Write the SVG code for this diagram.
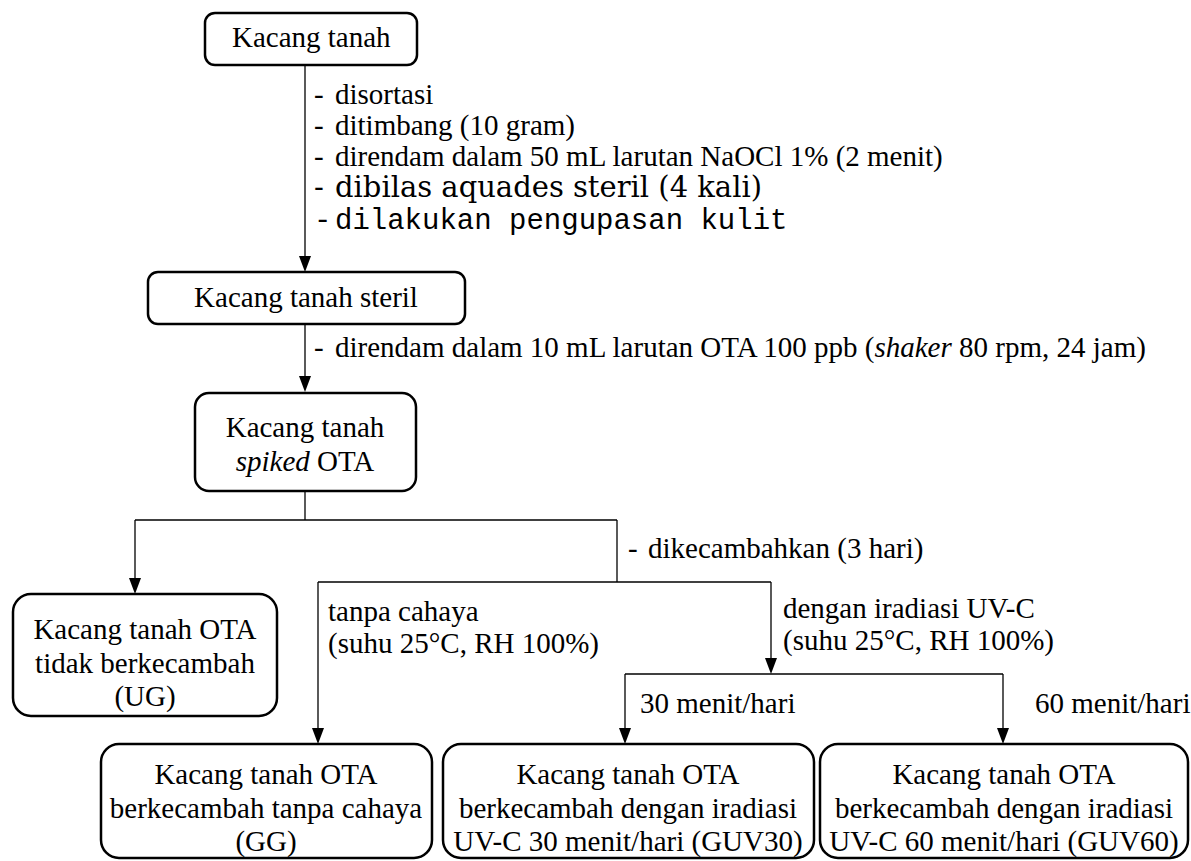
<svg xmlns="http://www.w3.org/2000/svg" width="1191" height="861" viewBox="0 0 1191 861">
<rect width="1191" height="861" fill="#fff"/>
<g id="connectors">
<g fill="none" stroke="#000" stroke-width="1.3">
<line x1="305" y1="65" x2="305" y2="260"/>
<line x1="305" y1="324" x2="305" y2="380"/>
<polyline points="305,491 305,520"/>
<polyline points="135,520 617,520"/>
<line x1="135" y1="520" x2="135" y2="582"/>
<polyline points="617,520 617,582"/>
<polyline points="318,582 771,582"/>
<line x1="318" y1="582" x2="318" y2="732"/>
<line x1="771" y1="582" x2="771" y2="662"/>
<polyline points="625,674 1003,674"/>
<line x1="625" y1="674" x2="625" y2="732"/>
<line x1="1003" y1="674" x2="1003" y2="732"/>
</g>
<g fill="#000">
<polygon points="299,256 311,256 305,272"/>
<polygon points="299,376 311,376 305,392"/>
<polygon points="129,578 141,578 135,594"/>
<polygon points="312,728 324,728 318,744"/>
<polygon points="765,658 777,658 771,674"/>
<polygon points="619,728 631,728 625,744"/>
<polygon points="997,728 1009,728 1003,744"/>
</g>
</g>
<g id="labels">
<text x="314" y="104" font-family="serif" font-size="29">-</text><text x="335" y="104" font-family="serif" font-size="29">disortasi</text>
<text x="314" y="135" font-family="Times New Roman" font-size="29">-</text><text x="335" y="135" font-family="Times New Roman" font-size="29">ditimbang (10 gram)</text>
<text x="314" y="166" font-family="Liberation Serif" font-size="29">-</text><text x="335" y="166" font-family="Liberation Serif" font-size="29">direndam dalam 50 mL larutan NaOCl 1% (2 menit)</text>
<text x="314" y="197" font-family="DejaVu Serif" font-size="29">-</text><text x="335" y="197" font-family="DejaVu Serif" font-size="29">dibilas aquades steril (4 kali)</text>
<text x="314" y="229" font-family="Liberation Mono" font-size="29">-</text><text x="335" y="229" font-family="Liberation Mono" font-size="29">dilakukan pengupasan kulit</text>
<text x="314" y="357" font-family="Liberation Serif" font-size="29">-</text><text x="335" y="357" font-family="Liberation Serif" font-size="29">direndam dalam 10 mL larutan OTA 100 ppb (<tspan font-style="italic">shaker</tspan> 80 rpm, 24 jam)</text>
<text x="628" y="558" font-family="Liberation Serif" font-size="29">-</text><text x="648" y="558" font-family="Liberation Serif" font-size="29">dikecambahkan (3 hari)</text>
<text x="328" y="621" font-family="Liberation Serif" font-size="29">tanpa cahaya</text>
<text x="328" y="653" font-family="Liberation Serif" font-size="29">(suhu 25&#176;C, RH 100%)</text>
<text x="783" y="618" font-family="Liberation Serif" font-size="29">dengan iradiasi UV-C</text>
<text x="783" y="650" font-family="Liberation Serif" font-size="29">(suhu 25&#176;C, RH 100%)</text>
<text x="640" y="713" font-family="Liberation Serif" font-size="29">30 menit/hari</text>
<text x="1035" y="713" font-family="Liberation Serif" font-size="29">60 menit/hari</text>
</g>
<g id="n1">
<rect x="205" y="13" width="212" height="52" rx="10" fill="#fff" stroke="#000" stroke-width="2.5"/>
<text x="232" y="47" font-family="Liberation Serif" font-size="29">Kacang tanah</text>
</g>
<g id="n2">
<rect x="148" y="272" width="317" height="52" rx="10" fill="#fff" stroke="#000" stroke-width="2.5"/>
<text x="306" y="307" text-anchor="middle" font-family="Liberation Serif" font-size="29">Kacang tanah steril</text>
</g>
<g id="n3">
<rect x="195" y="393" width="221" height="98" rx="14" fill="#fff" stroke="#000" stroke-width="2.5"/>
<text x="305" y="437" text-anchor="middle" font-family="Liberation Serif" font-size="29">Kacang tanah</text>
<text x="305" y="471" text-anchor="middle" font-family="Liberation Serif" font-size="29"><tspan font-style="italic">spiked</tspan> OTA</text>
</g>
<g id="n4">
<rect x="13" y="594" width="264" height="122" rx="18" fill="#fff" stroke="#000" stroke-width="2.5"/>
<text x="145" y="639" text-anchor="middle" font-family="Liberation Serif" font-size="29">Kacang tanah OTA</text>
<text x="145" y="673" text-anchor="middle" font-family="Liberation Serif" font-size="29">tidak berkecambah</text>
<text x="145" y="706" text-anchor="middle" font-family="Liberation Serif" font-size="29">(UG)</text>
</g>
<g id="n5">
<rect x="101" y="744" width="331" height="114" rx="18" fill="#fff" stroke="#000" stroke-width="2.5"/>
<text x="266" y="784" text-anchor="middle" font-family="Liberation Serif" font-size="29">Kacang tanah OTA</text>
<text x="266" y="818" text-anchor="middle" font-family="Liberation Serif" font-size="29">berkecambah tanpa cahaya</text>
<text x="266" y="851" text-anchor="middle" font-family="Liberation Serif" font-size="29">(GG)</text>
</g>
<g id="n6">
<rect x="443" y="744" width="371" height="114" rx="18" fill="#fff" stroke="#000" stroke-width="2.5"/>
<text x="628" y="784" text-anchor="middle" font-family="Liberation Serif" font-size="29">Kacang tanah OTA</text>
<text x="628" y="818" text-anchor="middle" font-family="Liberation Serif" font-size="29">berkecambah dengan iradiasi</text>
<text x="628" y="851" text-anchor="middle" font-family="Liberation Serif" font-size="29">UV-C 30 menit/hari (GUV30)</text>
</g>
<g id="n7">
<rect x="820" y="744" width="368" height="114" rx="18" fill="#fff" stroke="#000" stroke-width="2.5"/>
<text x="1004" y="784" text-anchor="middle" font-family="Liberation Serif" font-size="29">Kacang tanah OTA</text>
<text x="1004" y="818" text-anchor="middle" font-family="Liberation Serif" font-size="29">berkecambah dengan iradiasi</text>
<text x="1004" y="851" text-anchor="middle" font-family="Liberation Serif" font-size="29">UV-C 60 menit/hari (GUV60)</text>
</g>
</svg>
